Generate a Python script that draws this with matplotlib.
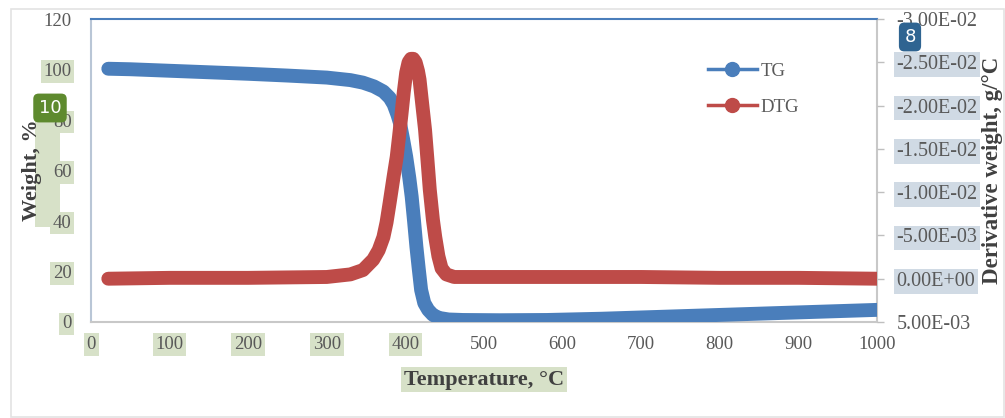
import matplotlib
matplotlib.use("Agg")
import matplotlib.pyplot as plt
from matplotlib.lines import Line2D
from matplotlib.patches import Rectangle
from matplotlib.ticker import FuncFormatter, MultipleLocator

# TG curve (temperature in C, weight in %)
tg_temp = [22, 50, 100, 150, 200, 250, 300, 330, 346, 360, 372, 380, 385, 390, 393,
           397, 401, 405, 408, 411, 414, 417, 420, 424, 429, 435, 443, 455, 473,
           520, 580, 650, 700, 800, 900, 1000]
tg_weight = [100.3, 100.1, 99.5, 98.9, 98.3, 97.6, 96.8, 95.8, 94.8, 93.3, 91.3, 88.8,
             86.2, 82.0, 78.9, 72.5, 65.5, 57.0, 49.6, 40.0, 29.8, 21.0, 12.7, 7.5,
             4.8, 2.8, 1.6, 1.0, 0.8, 0.7, 0.8, 1.3, 1.8, 2.8, 3.8, 4.8]

# DTG curve (temperature in C, derivative weight in g/C)
dtg_temp = [22, 100, 200, 300, 330, 346, 359, 366, 372, 376, 380, 385, 389, 392,
            395, 398, 401, 404, 407, 410, 413, 416, 418, 421, 425, 428, 431, 435,
            438, 442, 446, 452, 462, 500, 600, 700, 800, 900, 1000]
dtg_value = [0.0, -0.0001, -0.0001, -0.0002, -0.0005, -0.0010, -0.0022, -0.0033,
             -0.0048, -0.0065, -0.0088, -0.0118, -0.0141, -0.0165, -0.0190, -0.0216,
             -0.0238, -0.0250, -0.0254, -0.0254, -0.0250, -0.0240, -0.0230, -0.0205,
             -0.0172, -0.0138, -0.0103, -0.0068, -0.0048, -0.0026, -0.0012, -0.0005,
             -0.0002, -0.0002, -0.0002, -0.0002, -0.0001, -0.0001, 0.0]

x_ticks = [0, 100, 200, 300, 400, 500, 600, 700, 800, 900, 1000]
left_ticks = [0, 20, 40, 60, 80, 100, 120]

BLUE = "#4a7ebb"
RED = "#be4b48"
GREEN_HL = "#d7e1c8"
BLUE_HL = "#d0dae4"
TICK_COL = "#595959"
TITLE_COL = "#404040"

plt.rcParams["font.family"] = ["Liberation Serif", "DejaVu Serif"]

fig = plt.figure(figsize=(10.05, 4.18), dpi=100)
fig.patches.append(Rectangle((11 / 1005, 1 / 418), 993 / 1005, 408 / 418,
                             transform=fig.transFigure, fill=False,
                             edgecolor="#e3e3e3", lw=1.2))

ax = fig.add_axes([91 / 1005, 1 - 322 / 418, 786 / 1005, 303 / 418])
ax2 = ax.twinx()

ax.plot(tg_temp, tg_weight, color=BLUE, lw=10, solid_capstyle="round",
        solid_joinstyle="round", zorder=3)
ax2.plot(dtg_temp, dtg_value, color=RED, lw=10, solid_capstyle="round",
         solid_joinstyle="round", zorder=3)

ax.set_xlim(0, 1000)
ax.set_ylim(0, 120)
ax.set_xticks(x_ticks)
ax.set_yticks(left_ticks)
ax2.set_ylim(0.005, -0.03)
ax2.yaxis.set_major_locator(MultipleLocator(0.005))


def sci_fmt(v, pos):
    v = round(v, 6)
    if abs(v) < 1e-9:
        v = 0.0
    return f"{v:.2E}"


ax2.yaxis.set_major_formatter(FuncFormatter(sci_fmt))

ax.tick_params(axis="x", length=0, pad=10, labelsize=13.5, labelcolor=TICK_COL)
ax.tick_params(axis="y", length=0, pad=14, labelsize=13.5, labelcolor=TICK_COL)
ax2.tick_params(axis="y", length=5, width=1, color="#bfbfbf", pad=9,
                labelsize=14.5, labelcolor=TICK_COL)

for sp in ["left", "right", "bottom", "top"]:
    ax2.spines[sp].set_visible(False)
ax.spines["top"].set_color(BLUE)
ax.spines["top"].set_linewidth(1.5)
ax.spines["left"].set_color("#b9c6d6")
ax.spines["bottom"].set_color("#c8c8c8")
ax.spines["right"].set_color("#c8c8c8")
ax.spines["bottom"].set_linewidth(1.5)
ax.spines["left"].set_linewidth(1.5)
ax.spines["right"].set_linewidth(1.5)

# highlight boxes behind some tick labels
fig.canvas.draw()
for lab, val in zip(ax.get_xticklabels(), x_ticks):
    if val <= 400:
        lab.set_bbox(dict(facecolor=GREEN_HL, edgecolor="none", pad=2))
for lab, val in zip(ax.get_yticklabels(), left_ticks):
    if val <= 100:
        lab.set_bbox(dict(facecolor=GREEN_HL, edgecolor="none", pad=2))
for lab in ax2.get_yticklabels():
    try:
        v = float(lab.get_text())
    except ValueError:
        continue
    if -0.0251 < v < 0.0001:
        lab.set_bbox(dict(facecolor=BLUE_HL, edgecolor="none", pad=2))

ax.set_xlabel("Temperature, °C", fontsize=16, fontweight="bold", color=TITLE_COL,
              labelpad=12, bbox=dict(facecolor=GREEN_HL, edgecolor="none", pad=2))
ax.set_ylabel("Weight, %", fontsize=16, fontweight="bold", color=TITLE_COL,
              labelpad=1)
ax2.set_ylabel("Derivative weight, g/°C", fontsize=16.5, fontweight="bold",
               color=TITLE_COL, labelpad=3)

# pale band behind part of the left axis title
ax.add_patch(Rectangle((35 / 1005, 1 - 227 / 418), 25 / 1005, 130 / 418,
                       transform=fig.transFigure, facecolor=GREEN_HL,
                       edgecolor="none", zorder=0, clip_on=False))

handles = [Line2D([], [], color=BLUE, lw=2.5, marker="o", markersize=10),
           Line2D([], [], color=RED, lw=2.5, marker="o", markersize=10)]
ax2.legend(handles, ["TG", "DTG"], loc="upper left", bbox_to_anchor=(0.785, 0.855),
           frameon=False, fontsize=13.5, handlelength=2.6, handletextpad=0.2,
           labelspacing=1.0, borderpad=0, borderaxespad=0, labelcolor=TICK_COL)

# badges
fig.text(50 / 1005, 1 - 108 / 418, "10", ha="center", va="center", color="white",
         fontsize=13, family="DejaVu Sans", zorder=10,
         bbox=dict(boxstyle="round,pad=0.3", facecolor="#5e8a2e", edgecolor="none"))
fig.text(910 / 1005, 1 - 37 / 418, "8", ha="center", va="center", color="white",
         fontsize=13, family="DejaVu Sans", zorder=10,
         bbox=dict(boxstyle="round,pad=0.3", facecolor="#2f6491", edgecolor="none"))

fig.savefig("out.png", dpi=100)
